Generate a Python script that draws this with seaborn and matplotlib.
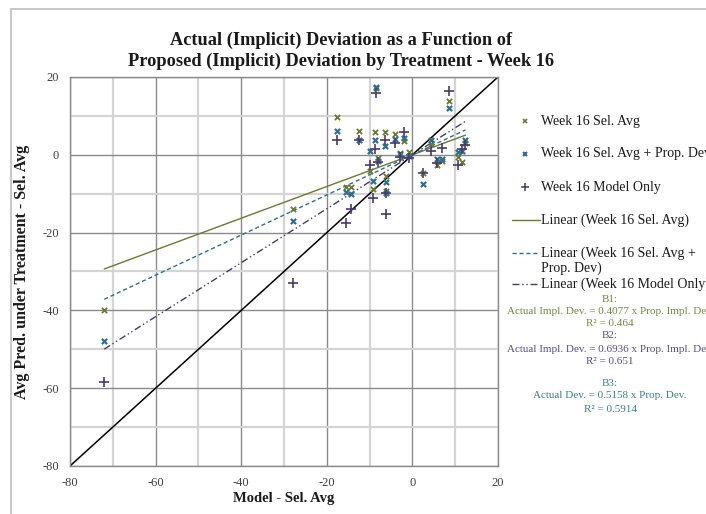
import matplotlib
matplotlib.use("Agg")
import matplotlib.pyplot as plt
from matplotlib.lines import Line2D
from matplotlib.patches import Rectangle
import numpy as np
import pandas as pd
import seaborn as sns

# Proposed (implicit) deviation: Model - Sel. Avg, one value per treatment
x_dev = [-72.0, -27.8, -17.6, -15.6, -14.3, -12.5, -9.8, -9.3, -8.4, -8.7,
         -8.0, -6.3, -6.1, -6.2, -4.0, -2.0, -2.8, -0.8, 2.4, 4.3,
         5.8, 7.0, 8.6, 10.7, 11.7, 12.4]
# Actual (implicit) deviation for each Week 16 series
sel_avg = [-40.0, -14.0, 9.7, -8.3, -8.4, 6.2, -4.1, -8.9, 17.2, 5.9,
           -0.7, 5.9, -5.4, -9.3, 5.3, 3.6, 0.5, 0.8, -4.8, 2.7,
           -2.7, -1.6, 13.9, -0.5, -1.8, 3.0]
sel_prop = [-47.8, -17.0, 6.1, -9.5, -10.1, 3.9, 0.9, -6.7, 17.4, 3.9,
            -1.5, 2.3, -7.0, -9.9, 4.0, 4.3, 0.2, -0.3, -7.4, 3.8,
            -1.1, -1.1, 12.0, 0.6, 1.0, 3.9]
model_only = [-58.5, -33.0, 3.8, -17.6, -13.9, 3.8, -2.6, -11.2, 15.9, 1.5,
              -1.8, 3.9, -9.9, -15.3, 3.0, 5.8, -0.5, -0.7, -4.6, 1.0,
              -2.0, 1.7, 16.3, -2.6, 1.5, 2.5]

# Through-origin trend slopes and fit statistics
slope_sel_avg = 0.4077
slope_sel_prop = 0.5158
slope_model = 0.6936
r2_sel_avg = 0.464
r2_model = 0.651
r2_sel_prop = 0.5914

series_names = ["Week 16 Sel. Avg", "Week 16 Sel. Avg + Prop. Dev", "Week 16 Model Only"]
x_ticks = [-80, -60, -40, -20, 0, 20]
y_ticks = [-80, -60, -40, -20, 0, 20]

GREEN = "#6b7a2f"
TEAL = "#2f7088"
PURPLE = "#4a3b6b"
TXT_GREEN = "#76883f"
TXT_PURPLE = "#5a4d80"
TXT_TEAL = "#3a7f90"

sns.set_theme(style="white")
plt.rcParams["font.family"] = ["Liberation Serif", "DejaVu Serif"]
plt.rcParams["axes.unicode_minus"] = False

W, H = 706, 514
fig = plt.figure(figsize=(W / 100, H / 100), dpi=100)
fx = lambda px: px / W
fy = lambda py: 1 - py / H

# chart frame
fig.patches.append(Rectangle((fx(11), fy(560)), fx(720) - fx(11), fy(9) - fy(560),
                             transform=fig.transFigure, fill=False,
                             edgecolor="#bdbdbd", linewidth=1.2, zorder=0))

ax = fig.add_axes([fx(70), fy(466), fx(498) - fx(70), fy(77) - fy(466)])

points = pd.DataFrame({"x": x_dev, "sel_avg": sel_avg,
                       "sel_prop": sel_prop, "model": model_only})

# grid
ax.set_xlim(-80, 20)
ax.set_ylim(-80, 20)
ax.set_xticks(x_ticks)
ax.set_yticks(y_ticks)
ax.set_xticks(np.arange(-70, 20, 20), minor=True)
ax.set_yticks(np.arange(-70, 20, 20), minor=True)
ax.grid(True, which="major", color="#8a8a8a", linewidth=1.0, zorder=0)
ax.grid(True, which="minor", color="#d4d4d4", linewidth=1.6, zorder=0)
ax.set_axisbelow(True)
for s in ax.spines.values():
    s.set_color("#8a8a8a")
    s.set_linewidth(1.0)
ax.tick_params(axis="both", which="major", length=4, width=1.0, color="#8a8a8a",
               labelsize=9, labelcolor="#404040", pad=4)
ax.tick_params(axis="both", which="minor", length=0)

# identity reference line
ax.plot([-80, 20], [-80, 20], color="black", linewidth=1.1, zorder=2)

# trend lines through the origin over the data range
xr = np.array([min(x_dev), max(x_dev)])
trend = pd.DataFrame({"x": np.concatenate([xr, xr, xr]),
                      "y": np.concatenate([slope_sel_avg * xr, slope_sel_prop * xr, slope_model * xr]),
                      "s": ["a"] * 2 + ["b"] * 2 + ["c"] * 2})
sns.lineplot(data=trend[trend.s == "a"], x="x", y="y", ax=ax, color=GREEN,
             linewidth=1.0, zorder=3)
sns.lineplot(data=trend[trend.s == "b"], x="x", y="y", ax=ax, color=TEAL,
             linewidth=1.0, linestyle=(0, (3, 2)), zorder=3)
sns.lineplot(data=trend[trend.s == "c"], x="x", y="y", ax=ax, color=PURPLE,
             linewidth=1.0, linestyle=(0, (5, 2, 1, 2, 1, 2)), zorder=3)

# scatter series
sns.scatterplot(data=points, x="x", y="sel_avg", ax=ax, marker="x", s=14,
                color=GREEN, linewidth=1.3, zorder=4)
sns.scatterplot(data=points, x="x", y="sel_prop", ax=ax, marker="x", s=14,
                color=TEAL, linewidth=1.6, zorder=4)
sns.scatterplot(data=points, x="x", y="model", ax=ax, marker="+", s=55,
                color=PURPLE, linewidth=1.2, zorder=5)

ax.set_xlabel("Model - Sel. Avg", fontsize=10.5, fontweight="bold", color="#1a1a1a", labelpad=2)
ax.set_ylabel("Avg Pred. under Treatment - Sel. Avg", fontsize=11.5, fontweight="bold",
              color="#1a1a1a", labelpad=9)

fig.text(fx(341), fy(51),
         "Actual (Implicit) Deviation as a Function of\nProposed (Implicit) Deviation by Treatment - Week 16",
         ha="center", va="center", fontsize=13.2, fontweight="bold", color="#1a1a1a",
         linespacing=1.3)

# legend
leg_fs = 10
mk_x, txt_x = 525, 541
fig.lines.append(Line2D([fx(mk_x)], [fy(121)], marker="x", markersize=3.5, mew=1.2,
                        color=GREEN, linestyle="none", transform=fig.transFigure))
fig.lines.append(Line2D([fx(mk_x)], [fy(154)], marker="x", markersize=3.5, mew=1.5,
                        color=TEAL, linestyle="none", transform=fig.transFigure))
fig.lines.append(Line2D([fx(mk_x)], [fy(187)], marker="+", markersize=6, mew=1.1,
                        color=PURPLE, linestyle="none", transform=fig.transFigure))
fig.lines.append(Line2D([fx(512), fx(540)], [fy(220)] * 2, color=GREEN, linewidth=1.0,
                        transform=fig.transFigure))
fig.lines.append(Line2D([fx(512), fx(540)], [fy(253)] * 2, color=TEAL, linewidth=1.0,
                        linestyle=(0, (3, 2)), transform=fig.transFigure))
fig.lines.append(Line2D([fx(512), fx(540)], [fy(284)] * 2, color=PURPLE, linewidth=1.0,
                        linestyle=(0, (5, 2, 1, 2, 1, 2)), transform=fig.transFigure))
legend_rows = [(121, series_names[0]), (154, series_names[1]), (187, series_names[2]),
               (220, "Linear (Week 16 Sel. Avg)"), (253, "Linear (Week 16 Sel. Avg +"),
               (268, "Prop. Dev)"), (284, "Linear (Week 16 Model Only)")]
for py, label in legend_rows:
    fig.text(fx(txt_x), fy(py), label, ha="left", va="center", fontsize=leg_fs, color="#1a1a1a")

# fit annotations
eq_cx = 610
eq_fs = 8
notes = [
    (299, "B1:", TXT_GREEN),
    (311, f"Actual Impl. Dev. = {slope_sel_avg:.4f} x Prop. Impl. Dev.", TXT_GREEN),
    (323, f"R² = {r2_sel_avg:.3f}", TXT_GREEN),
    (336, "B2:", TXT_PURPLE),
    (349, f"Actual Impl. Dev. = {slope_model:.4f} x Prop. Impl. Dev.", TXT_PURPLE),
    (361, f"R² = {r2_model:.3f}", TXT_PURPLE),
    (383, "B3:", TXT_TEAL),
    (396, f"Actual Dev. = {slope_sel_prop:.4f} x Prop. Dev.", TXT_TEAL),
    (409, f"R² = {r2_sel_prop:.4f}", TXT_TEAL),
]
for py, label, c in notes:
    fig.text(fx(eq_cx), fy(py), label, ha="center", va="center", fontsize=eq_fs, color=c)

fig.savefig("out.png", dpi=100)
